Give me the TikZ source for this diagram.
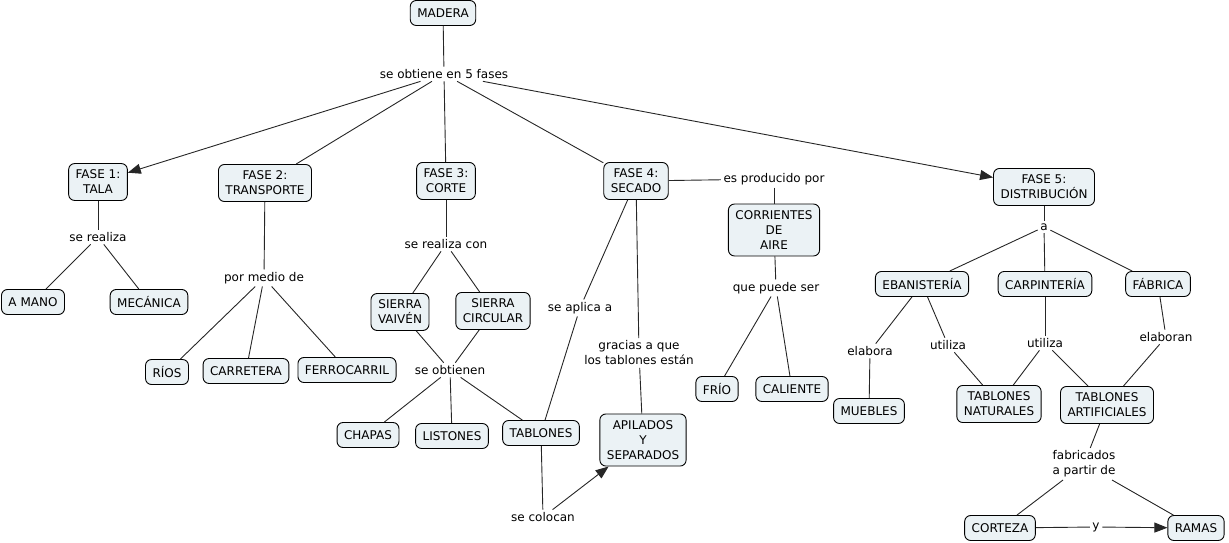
\documentclass[tikz,border=0pt]{standalone}
\usepackage{fontspec}
\setmainfont{DejaVu Sans}
\usetikzlibrary{arrows.meta}
\definecolor{boxfill}{RGB}{235,242,245}
\begin{document}
\begin{tikzpicture}[x=1pt,y=-1pt,
 every node/.style={font=\fontsize{12}{15}\selectfont},
 concept/.style={draw=black, fill=boxfill, rounded corners=6pt, line width=0.9pt, align=center, inner xsep=7pt, inner ysep=6.5pt, minimum height=25pt},
 lab/.style={align=center, inner sep=2.5pt},
 link/.style={draw=black!85, line width=0.9pt},
 arr/.style={link, -{Triangle[length=13pt,width=10pt]}}]
\useasboundingbox (0,0) rectangle (1229,543);

% concepts
\node[concept] (madera) at (443,13) {MADERA};
\node[concept] (f1) at (98,182) {FASE 1:\\TALA};
\node[concept] (f2) at (265,183) {FASE 2:\\TRANSPORTE};
\node[concept] (f3) at (446,181) {FASE 3:\\CORTE};
\node[concept] (f4) at (636,181) {FASE 4:\\SECADO};
\node[concept] (f5) at (1044,187) {FASE 5:\\DISTRIBUCIÓN};
\node[concept] (amano) at (33,302) {A MANO};
\node[concept] (mecanica) at (149,302) {MECÁNICA};
\node[concept] (rios) at (167,372) {RÍOS};
\node[concept] (carretera) at (246,371) {CARRETERA};
\node[concept] (ferro) at (347,370) {FERROCARRIL};
\node[concept] (vaiven) at (400,312) {SIERRA\\VAIVÉN};
\node[concept] (circular) at (493,311) {SIERRA\\CIRCULAR};
\node[concept] (chapas) at (368,435) {CHAPAS};
\node[concept] (listones) at (452,436) {LISTONES};
\node[concept] (tablones) at (541,433) {TABLONES};
\node[concept] (apilados) at (643,440) {APILADOS\\Y\\SEPARADOS};
\node[concept] (corrientes) at (774,230) {CORRIENTES\\DE\\AIRE};
\node[concept] (frio) at (717,389) {FRÍO};
\node[concept] (caliente) at (792,389) {CALIENTE};
\node[concept] (ebanis) at (922,284) {EBANISTERÍA};
\node[concept] (carpin) at (1045,284) {CARPINTERÍA};
\node[concept] (fabrica) at (1158,284) {FÁBRICA};
\node[concept] (muebles) at (869,411) {MUEBLES};
\node[concept] (tnat) at (999,404) {TABLONES\\NATURALES};
\node[concept] (tart) at (1107,405) {TABLONES\\ARTIFICIALES};
\node[concept] (corteza) at (1000,528) {CORTEZA};
\node[concept] (ramas) at (1196,528) {RAMAS};

% linking phrases
\node[lab] (l0) at (444,74) {se obtiene en 5 fases};
\node[lab] (l1) at (98,237) {se realiza};
\node[lab] (l2) at (264,278) {por medio de};
\node[lab] (l3) at (446,244) {se realiza con};
\node[lab] (l3b) at (450,370) {se obtienen};
\node[lab] (l4a) at (580,308) {se aplica a};
\node[lab] (l4b) at (639,353) {gracias a que\\los tablones están};
\node[lab] (l4c) at (543,517) {se colocan};
\node[lab] (l4d) at (774,179) {es producido por};
\node[lab] (l4e) at (776,288) {que puede ser};
\node[lab] (l5) at (1044,227) {a};
\node[lab] (l5a) at (870,351) {elabora};
\node[lab] (l5b) at (948,345) {utiliza};
\node[lab] (l5c) at (1045,343) {utiliza};
\node[lab] (l5d) at (1166,337) {elaboran};
\node[lab] (l5e) at (1084,464) {fabricados\\a partir de};
\node[lab] (l5f) at (1096,527) {y};

% connectors
\draw[link] (madera) -- (l0);
\draw[arr] (l0) -- (f1);
\draw[link] (l0) -- (f2);
\draw[link] (l0) -- (f3);
\draw[link] (l0) -- (f4);
\draw[arr] (l0) -- (f5);

\draw[link] (f1) -- (l1);
\draw[link] (l1) -- (amano);
\draw[link] (l1) -- (mecanica);

\draw[link] (f2) -- (l2);
\draw[link] (l2) -- (rios);
\draw[link] (l2) -- (carretera);
\draw[link] (l2) -- (ferro);

\draw[link] (f3) -- (l3);
\draw[link] (l3) -- (vaiven);
\draw[link] (l3) -- (circular);
\draw[link] (vaiven) -- (l3b);
\draw[link] (circular) -- (l3b);
\draw[link] (l3b) -- (chapas);
\draw[link] (l3b) -- (listones);
\draw[link] (l3b) -- (tablones);

\draw[link] (f4) -- (l4a);
\draw[link] (l4a) -- (tablones);
\draw[link] (f4) -- (l4b);
\draw[link] (l4b) -- (apilados);
\draw[link] (tablones) -- (l4c);
\draw[arr] (l4c) -- (apilados);
\draw[link] (f4) -- (l4d);
\draw[link] (l4d) -- (corrientes);
\draw[link] (corrientes) -- (l4e);
\draw[link] (l4e) -- (frio);
\draw[link] (l4e) -- (caliente);

\draw[link] (f5) -- (l5);
\draw[link] (l5) -- (ebanis);
\draw[link] (l5) -- (carpin);
\draw[link] (l5) -- (fabrica);
\draw[link] (ebanis) -- (l5a);
\draw[link] (l5a) -- (muebles);
\draw[link] (ebanis) -- (l5b);
\draw[link] (l5b) -- (tnat);
\draw[link] (carpin) -- (l5c);
\draw[link] (l5c) -- (tnat);
\draw[link] (l5c) -- (tart);
\draw[link] (fabrica) -- (l5d);
\draw[link] (l5d) -- (tart);
\draw[link] (tart) -- (l5e);
\draw[link] (l5e) -- (corteza);
\draw[link] (l5e) -- (ramas);
\draw[link] (corteza) -- (l5f);
\draw[arr] (l5f) -- (ramas);
\end{tikzpicture}
\end{document}
